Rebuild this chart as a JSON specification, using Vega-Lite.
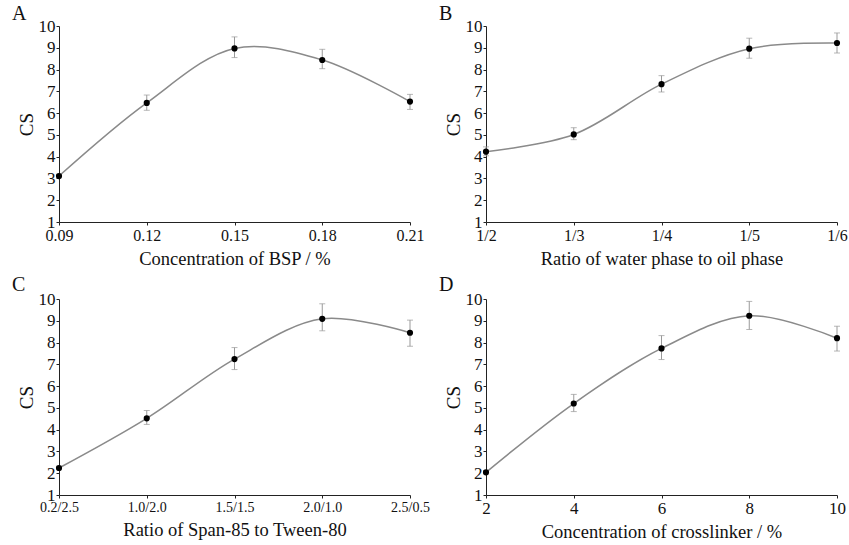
{
  "$schema": "https://vega.github.io/schema/vega-lite/v6.json",
  "background": "white",
  "padding": {"left": 12, "top": 4, "right": 0, "bottom": 0},
  "spacing": {"row": 7, "column": 9},
  "columns": 2,
  "datasets": {
    "A": [
      {"x": "0.09", "cs": 3.11, "lo": 3.03, "hi": 3.19},
      {"x": "0.12", "cs": 6.47, "lo": 6.13, "hi": 6.83},
      {"x": "0.15", "cs": 8.97, "lo": 8.55, "hi": 9.5},
      {"x": "0.18", "cs": 8.44, "lo": 8.04, "hi": 8.93},
      {"x": "0.21", "cs": 6.53, "lo": 6.17, "hi": 6.86}
    ],
    "B": [
      {"x": "1/2", "cs": 4.23, "lo": 4.04, "hi": 4.45},
      {"x": "1/3", "cs": 5.02, "lo": 4.78, "hi": 5.33},
      {"x": "1/4", "cs": 7.33, "lo": 6.97, "hi": 7.72},
      {"x": "1/5", "cs": 8.96, "lo": 8.52, "hi": 9.44},
      {"x": "1/6", "cs": 9.22, "lo": 8.76, "hi": 9.68}
    ],
    "C": [
      {"x": "0.2/2.5", "cs": 2.24, "lo": 2.16, "hi": 2.32},
      {"x": "1.0/2.0", "cs": 4.52, "lo": 4.24, "hi": 4.88},
      {"x": "1.5/1.5", "cs": 7.24, "lo": 6.76, "hi": 7.77},
      {"x": "2.0/1.0", "cs": 9.09, "lo": 8.54, "hi": 9.78},
      {"x": "2.5/0.5", "cs": 8.45, "lo": 7.83, "hi": 9.03}
    ],
    "D": [
      {"x": "2", "cs": 2.04, "lo": 1.96, "hi": 2.12},
      {"x": "4", "cs": 5.2, "lo": 4.83, "hi": 5.62},
      {"x": "6", "cs": 7.73, "lo": 7.22, "hi": 8.32},
      {"x": "8", "cs": 9.23, "lo": 8.6, "hi": 9.89},
      {"x": "10", "cs": 8.2, "lo": 7.61, "hi": 8.75}
    ]
  },
  "config": {
    "font": "Liberation Serif",
    "view": {"stroke": null},
    "axis": {
      "grid": false,
      "domainColor": "#222",
      "tickColor": "#222",
      "tickSize": 3,
      "labelFont": "Liberation Serif",
      "labelFontSize": 16,
      "labelColor": "#111",
      "labelOverlap": false,
      "titleFont": "Liberation Serif",
      "titleFontWeight": "normal",
      "titleColor": "#111"
    },
    "axisY": {
      "tickCount": 10,
      "labelFontSize": 17,
      "labelPadding": 1,
      "titleFontSize": 19,
      "titlePadding": 2
    },
    "axisX": {
      "labelAngle": 0,
      "labelPadding": 2,
      "titleFontSize": 18.5,
      "titlePadding": 6
    },
    "title": {"font": "Liberation Serif", "fontSize": 20, "fontWeight": "normal", "color": "#111"}
  },
  "concat": [
    {
      "width": 351, "height": 196,
      "data": {"name": "A"},
      "title": {"text": "A", "anchor": "start", "frame": "group", "dx": -47, "offset": -7},
      "encoding": {"x": {"field": "x", "type": "ordinal", "sort": null, "scale": {"type": "point", "padding": 0}, "axis": {"title": "Concentration of BSP / %"}}},
      "layer": [
        {"mark": {"type": "line", "interpolate": "catmull-rom", "color": "#8a8a8a", "strokeWidth": 1.5}, "encoding": {"y": {"field": "cs", "type": "quantitative", "title": "CS", "scale": {"domain": [1, 10], "nice": false}}}},
        {"mark": {"type": "rule", "color": "#999", "strokeWidth": 1}, "encoding": {"y": {"field": "lo", "type": "quantitative", "title": "CS"}, "y2": {"field": "hi"}}},
        {"mark": {"type": "tick", "color": "#999", "size": 6, "thickness": 1}, "encoding": {"y": {"field": "lo", "type": "quantitative", "title": "CS"}}},
        {"mark": {"type": "tick", "color": "#999", "size": 6, "thickness": 1}, "encoding": {"y": {"field": "hi", "type": "quantitative", "title": "CS"}}},
        {"mark": {"type": "point", "filled": true, "color": "#000", "size": 38, "opacity": 1}, "encoding": {"y": {"field": "cs", "type": "quantitative", "title": "CS"}}}
      ]
    },
    {
      "width": 351, "height": 196,
      "data": {"name": "B"},
      "title": {"text": "B", "anchor": "start", "frame": "group", "dx": -47, "offset": -7},
      "encoding": {"x": {"field": "x", "type": "ordinal", "sort": null, "scale": {"type": "point", "padding": 0}, "axis": {"title": "Ratio of water phase to oil phase"}}},
      "layer": [
        {"mark": {"type": "line", "interpolate": "catmull-rom", "color": "#8a8a8a", "strokeWidth": 1.5}, "encoding": {"y": {"field": "cs", "type": "quantitative", "title": "CS", "scale": {"domain": [1, 10], "nice": false}}}},
        {"mark": {"type": "rule", "color": "#999", "strokeWidth": 1}, "encoding": {"y": {"field": "lo", "type": "quantitative", "title": "CS"}, "y2": {"field": "hi"}}},
        {"mark": {"type": "tick", "color": "#999", "size": 6, "thickness": 1}, "encoding": {"y": {"field": "lo", "type": "quantitative", "title": "CS"}}},
        {"mark": {"type": "tick", "color": "#999", "size": 6, "thickness": 1}, "encoding": {"y": {"field": "hi", "type": "quantitative", "title": "CS"}}},
        {"mark": {"type": "point", "filled": true, "color": "#000", "size": 38, "opacity": 1}, "encoding": {"y": {"field": "cs", "type": "quantitative", "title": "CS"}}}
      ]
    },
    {
      "width": 351, "height": 196,
      "data": {"name": "C"},
      "title": {"text": "C", "anchor": "start", "frame": "group", "dx": -47, "offset": -5},
      "encoding": {"x": {"field": "x", "type": "ordinal", "sort": null, "scale": {"type": "point", "padding": 0}, "axis": {"title": "Ratio of Span-85 to Tween-80", "labelFontSize": 14}}},
      "layer": [
        {"mark": {"type": "line", "interpolate": "catmull-rom", "color": "#8a8a8a", "strokeWidth": 1.5}, "encoding": {"y": {"field": "cs", "type": "quantitative", "title": "CS", "scale": {"domain": [1, 10], "nice": false}}}},
        {"mark": {"type": "rule", "color": "#999", "strokeWidth": 1}, "encoding": {"y": {"field": "lo", "type": "quantitative", "title": "CS"}, "y2": {"field": "hi"}}},
        {"mark": {"type": "tick", "color": "#999", "size": 6, "thickness": 1}, "encoding": {"y": {"field": "lo", "type": "quantitative", "title": "CS"}}},
        {"mark": {"type": "tick", "color": "#999", "size": 6, "thickness": 1}, "encoding": {"y": {"field": "hi", "type": "quantitative", "title": "CS"}}},
        {"mark": {"type": "point", "filled": true, "color": "#000", "size": 38, "opacity": 1}, "encoding": {"y": {"field": "cs", "type": "quantitative", "title": "CS"}}}
      ]
    },
    {
      "width": 351, "height": 196,
      "data": {"name": "D"},
      "title": {"text": "D", "anchor": "start", "frame": "group", "dx": -47, "offset": -5},
      "encoding": {"x": {"field": "x", "type": "ordinal", "sort": null, "scale": {"type": "point", "padding": 0}, "axis": {"title": "Concentration of crosslinker / %", "labelFontSize": 17}}},
      "layer": [
        {"mark": {"type": "line", "interpolate": "catmull-rom", "color": "#8a8a8a", "strokeWidth": 1.5}, "encoding": {"y": {"field": "cs", "type": "quantitative", "title": "CS", "scale": {"domain": [1, 10], "nice": false}}}},
        {"mark": {"type": "rule", "color": "#999", "strokeWidth": 1}, "encoding": {"y": {"field": "lo", "type": "quantitative", "title": "CS"}, "y2": {"field": "hi"}}},
        {"mark": {"type": "tick", "color": "#999", "size": 6, "thickness": 1}, "encoding": {"y": {"field": "lo", "type": "quantitative", "title": "CS"}}},
        {"mark": {"type": "tick", "color": "#999", "size": 6, "thickness": 1}, "encoding": {"y": {"field": "hi", "type": "quantitative", "title": "CS"}}},
        {"mark": {"type": "point", "filled": true, "color": "#000", "size": 38, "opacity": 1}, "encoding": {"y": {"field": "cs", "type": "quantitative", "title": "CS"}}}
      ]
    }
  ]
}
